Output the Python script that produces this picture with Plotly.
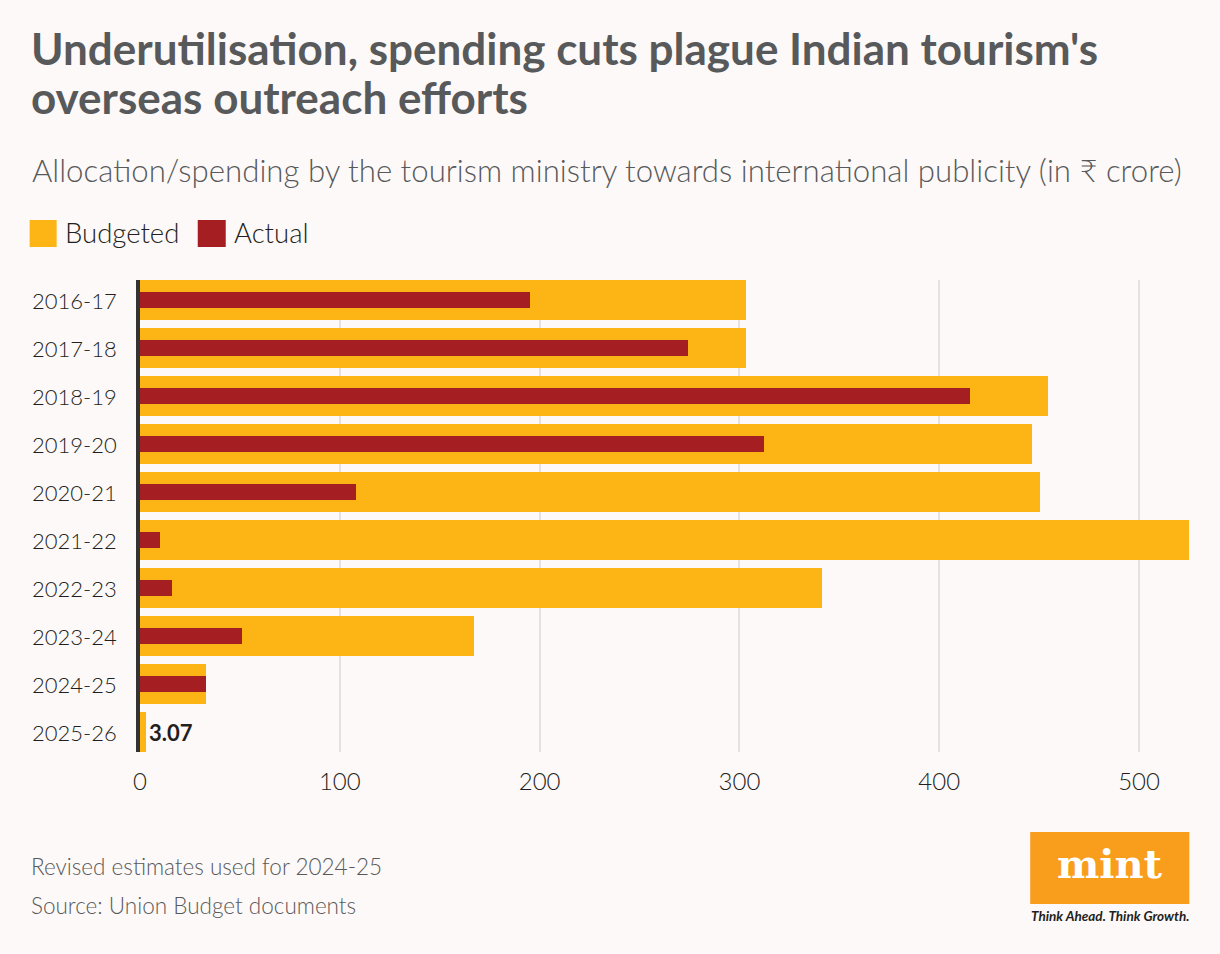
import plotly.graph_objects as go

# ---- data ----
years = ["2016-17", "2017-18", "2018-19", "2019-20", "2020-21",
         "2021-22", "2022-23", "2023-24", "2024-25", "2025-26"]
budgeted = [303.3, 303.3, 454.6, 446.6, 450.6, 524.8, 341.4, 167.1, 32.9, 3.07]
actual = [195.2, 274.3, 415.5, 312.3, 108.1, 9.9, 15.9, 50.9, 32.9, None]
x_ticks = [0, 100, 200, 300, 400, 500]

# ---- style ----
BG = "#fdf9f8"
AMBER = "#fdb515"
RED = "#a51e22"
GREY = "#58595b"
DARK = "#231f20"
FONT = "Lato"

W, H = 1220, 954
L, R, T, B = 140.3, 1189.7, 280, 752  # plot area in pixels


def px_x(px):
    return (px - L) / (R - L)


def px_y(py):
    return (B - py) / (B - T)


ypos = list(range(len(years)))
budget_text = ["" for _ in years]
budget_text[-1] = "<b>3.07</b>"

fig = go.Figure()
fig.add_trace(go.Bar(
    y=ypos, x=budgeted, orientation="h", width=40 / 48,
    marker=dict(color=AMBER, line=dict(width=0)),
    text=budget_text, textposition="outside", cliponaxis=False,
    textfont=dict(family=FONT, size=22, color=DARK),
    name="Budgeted", showlegend=False, hoverinfo="x+name",
))
fig.add_trace(go.Bar(
    y=ypos, x=actual, orientation="h", width=16 / 48,
    marker=dict(color=RED, line=dict(width=0)),
    name="Actual", showlegend=False, hoverinfo="x+name",
))

ann = []
# title
ann.append(dict(text="<b>Underutilisation, spending cuts plague Indian tourism's</b>",
                x=px_x(29), y=px_y(48), xanchor="left", yanchor="middle",
                font=dict(family=FONT, size=44, color=GREY)))
ann.append(dict(text="<b>overseas outreach efforts</b>",
                x=px_x(29), y=px_y(97), xanchor="left", yanchor="middle",
                font=dict(family=FONT, size=44, color=GREY)))
# subtitle
ann.append(dict(text="Allocation/spending by the tourism ministry towards international publicity (in ₹ crore)",
                x=px_x(30), y=px_y(170), xanchor="left", yanchor="middle",
                font=dict(family=FONT, size=31.2, color=GREY, weight=300)))
# legend
ann.append(dict(text="Budgeted", x=px_x(63), y=px_y(233), xanchor="left", yanchor="middle",
                font=dict(family=FONT, size=27.5, color=DARK, weight=300)))
ann.append(dict(text="Actual", x=px_x(232), y=px_y(233), xanchor="left", yanchor="middle",
                font=dict(family=FONT, size=27.5, color=DARK, weight=300)))
# y category labels (left aligned)
for i, yr in enumerate(years):
    ann.append(dict(text=yr, xref="paper", yref="y", x=px_x(30), y=i,
                    xanchor="left", yanchor="middle",
                    font=dict(family=FONT, size=22, color=DARK, weight=300)))
# footer
ann.append(dict(text="Revised estimates used for 2024-25", x=px_x(29), y=px_y(866),
                xanchor="left", yanchor="middle",
                font=dict(family=FONT, size=22.5, color=GREY, weight=300)))
ann.append(dict(text="Source: Union Budget documents", x=px_x(29), y=px_y(905),
                xanchor="left", yanchor="middle",
                font=dict(family=FONT, size=22.5, color=GREY, weight=300)))
# logo
ann.append(dict(text="<b>mint</b>", x=px_x(1110), y=px_y(863), xanchor="center", yanchor="middle",
                font=dict(family="DejaVu Serif", size=40, color="white")))
ann.append(dict(text="<b><i>Think Ahead. Think Growth.</i></b>", x=px_x(1110), y=px_y(916),
                xanchor="center", yanchor="middle",
                font=dict(family=FONT, size=13.5, color=DARK)))
for a in ann:
    a.setdefault("xref", "paper")
    a.setdefault("yref", "paper")
    a["showarrow"] = False

shapes = [
    dict(type="rect", xref="paper", yref="paper",
         x0=px_x(30), x1=px_x(57), y0=px_y(220), y1=px_y(247),
         fillcolor=AMBER, line=dict(width=0)),
    dict(type="rect", xref="paper", yref="paper",
         x0=px_x(198), x1=px_x(226), y0=px_y(220), y1=px_y(247),
         fillcolor=RED, line=dict(width=0)),
    dict(type="rect", xref="paper", yref="paper",
         x0=px_x(1030), x1=px_x(1189), y0=px_y(832), y1=px_y(904),
         fillcolor="#f99d1c", line=dict(width=0)),
]

fig.update_layout(
    width=W, height=H,
    margin=dict(l=L, r=W - R, t=T, b=H - B, pad=0),
    paper_bgcolor=BG, plot_bgcolor=BG,
    barmode="overlay", bargap=0,
    font=dict(family=FONT),
    annotations=ann, shapes=shapes,
    xaxis=dict(range=[0, 525.5], tickvals=x_ticks, showgrid=True,
               gridcolor="#e3e1e1", gridwidth=2, zeroline=False, showline=False,
               ticks="", ticklabelstandoff=13,
               tickfont=dict(family=FONT, size=24, color=DARK, weight=300),
               fixedrange=True),
    yaxis=dict(range=[len(years) - 0.5 - 1 / 12, -0.5 + 1 / 12],
               tickvals=ypos, showticklabels=False, showgrid=False,
               zeroline=False, showline=True, linecolor="#333333", linewidth=4,
               fixedrange=True),
)

fig.write_html("out.html")
